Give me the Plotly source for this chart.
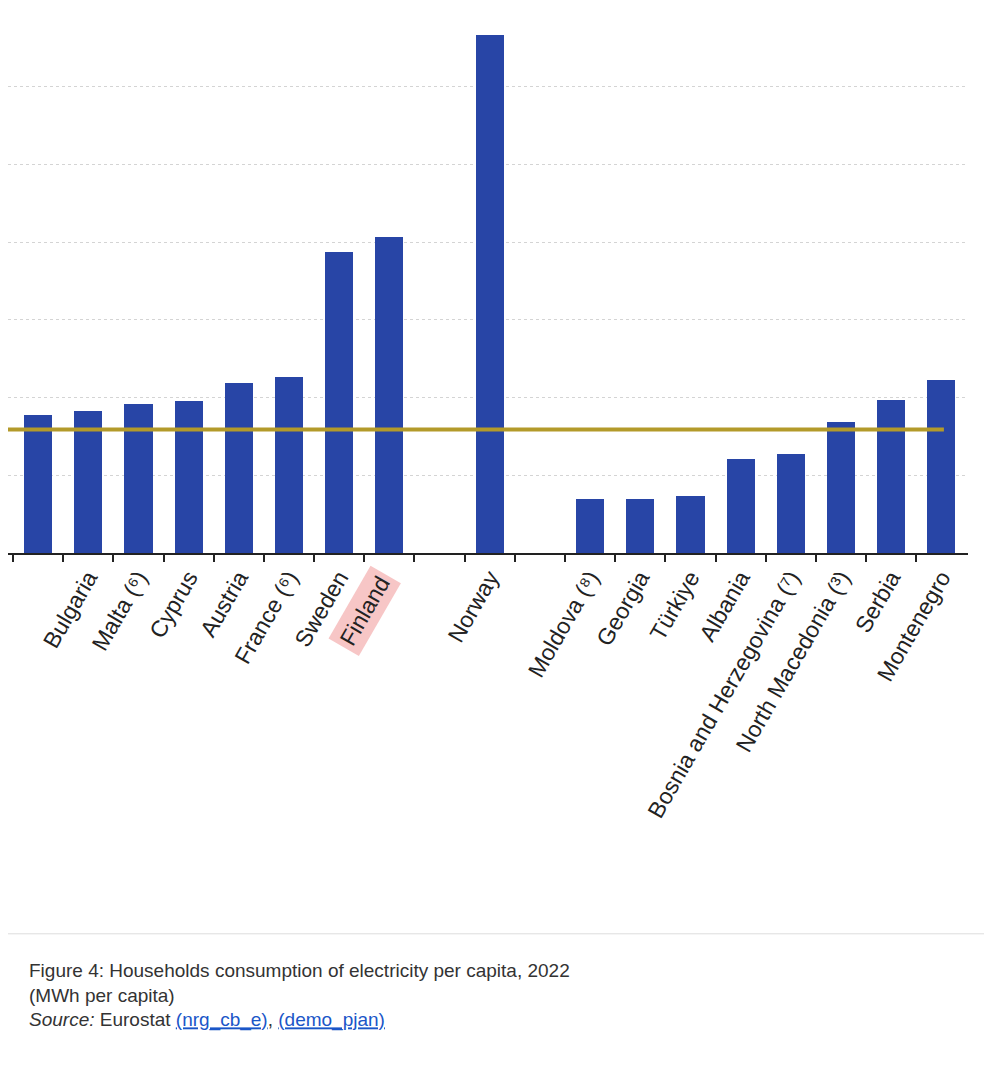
import plotly.graph_objects as go

# MWh per capita, 2022
countries = ["Slovenia", "Bulgaria", "Malta (⁶)", "Cyprus", "Austria", "France (⁶)", "Sweden", "Finland",
             "", "Norway", "",
             "Moldova (⁸)", "Georgia", "Türkiye", "Albania", "Bosnia and Herzegovina (⁷)",
             "North Macedonia (³)", "Serbia", "Montenegro"]
values = [1.77, 1.83, 1.92, 1.96, 2.19, 2.27, 3.87, 4.06,
          None, 6.67, None,
          0.69, 0.69, 0.73, 1.21, 1.28, 1.68, 1.97, 2.23]
eu_average = 1.59

pos = list(range(len(countries)))
labels = [c if c != "Finland" else " " for c in countries]

fig = go.Figure()
fig.add_trace(go.Bar(x=pos, y=values, marker_color="#2845a6", width=0.56,
                     marker_line_width=0))

fig.add_shape(type="line", xref="x", yref="y", x0=-0.6, x1=18.05, y0=eu_average, y1=eu_average,
              line=dict(color="#b39a2a", width=4))

# highlighted Finland label
fig.add_annotation(x=7, y=0, xref="x", yref="y", yshift=-12, xshift=12, text="Finland", showarrow=False,
                   textangle=-60, xanchor="right", yanchor="top",
                   font=dict(size=23, color="#222", family="Liberation Sans"),
                   bgcolor="#f7c6c6", borderpad=4)

fig.add_shape(type="line", xref="paper", yref="paper", x0=-0.05, x1=1.05, y0=-0.70, y1=-0.70,
              line=dict(color="#dddddd", width=1))
caption = ("Figure 4: Households consumption of electricity per capita, 2022<br>"
           "(MWh per capita)<br>"
           "<i>Source:</i> Eurostat <span style='color:#1a56c8'><u>(nrg_cb_e)</u></span>, "
           "<span style='color:#1a56c8'><u>(demo_pjan)</u></span>")
fig.add_annotation(x=0.02, y=-0.745, xref="paper", yref="paper", text=caption, showarrow=False,
                   xanchor="left", yanchor="top", align="left",
                   font=dict(size=19, color="#333", family="Liberation Sans"))

fig.update_layout(
    width=992, height=1078,
    margin=dict(l=0, r=32, t=1, b=533, autoexpand=False),
    plot_bgcolor="white", paper_bgcolor="white",
    showlegend=False, bargap=0,
    xaxis=dict(range=[-0.6, 18.53], tickvals=pos, ticktext=labels, tickangle=-60,
               ticks="", showgrid=False, showline=True, linecolor="#222", linewidth=2,
               automargin=False,
               tickfont=dict(size=23, color="#222", family="Liberation Sans"),
               minor=dict(tickvals=[i + 0.5 for i in range(-1, 18)], ticks="outside",
                          ticklen=7, tickcolor="#222", tickwidth=2, showgrid=False)),
    yaxis=dict(range=[0, 7.0], dtick=1, showticklabels=False, showgrid=True, automargin=False,
               gridcolor="#d4d4d4", griddash="dot", zeroline=False),
)

fig.write_html("out.html")
